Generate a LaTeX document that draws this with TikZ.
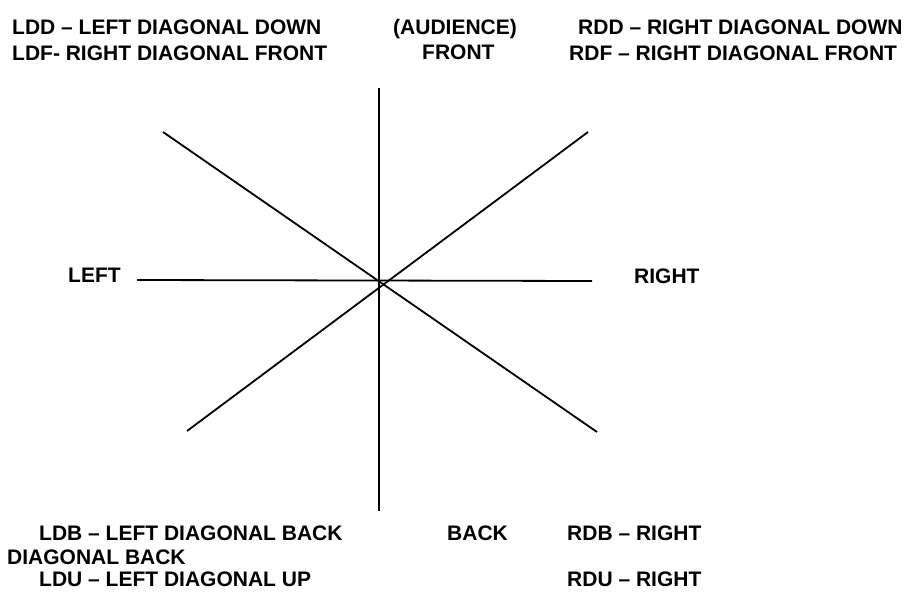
\documentclass[tikz,border=0pt]{standalone}
\usepackage{fontspec}
\setmainfont{Liberation Sans}
\tikzset{
  lbl/.style={anchor=base west, inner sep=0pt, font=\fontsize{21}{25}\selectfont\bfseries},
  axis/.style={line width=1.8pt, black}
}
\begin{document}
\begin{tikzpicture}[x=1pt,y=-1pt]
\useasboundingbox[fill=white] (0,0) rectangle (909,591);
% end points of the axes
\coordinate (top) at (379,88);
\coordinate (bot) at (379,511);
\coordinate (lft) at (137,280);
\coordinate (rgt) at (592,281);
\coordinate (ul) at (163,132);
\coordinate (lr) at (597,432);
\coordinate (ur) at (588,132);
\coordinate (ll) at (187,431);
\draw[axis] (top) -- (bot);
\draw[axis] (lft) -- (rgt);
\draw[axis] (ul) -- (lr);
\draw[axis] (ur) -- (ll);
% labels
\node[lbl] (ldd) at (12,35) {LDD – LEFT DIAGONAL DOWN};
\node[lbl] (ldf) at (12,61) {LDF- RIGHT DIAGONAL FRONT};
\node[lbl] (aud) at (393,35) {(AUDIENCE)};
\node[lbl] (front) at (422,60) {FRONT};
\node[lbl] (rdd) at (578,35) {RDD – RIGHT DIAGONAL DOWN};
\node[lbl] (rdf) at (569,61) {RDF – RIGHT DIAGONAL FRONT};
\node[lbl] (left) at (68,282) {LEFT};
\node[lbl] (right) at (634,283) {RIGHT};
\node[lbl] (ldb) at (39,540) {LDB – LEFT DIAGONAL BACK};
\node[lbl] (diag) at (7,564) {DIAGONAL BACK};
\node[lbl] (ldu) at (39,586) {LDU – LEFT DIAGONAL UP};
\node[lbl] (back) at (447,540) {BACK};
\node[lbl] (rdb) at (567,540) {RDB – RIGHT};
\node[lbl] (rdu) at (567,586) {RDU – RIGHT};
\end{tikzpicture}
\end{document}
